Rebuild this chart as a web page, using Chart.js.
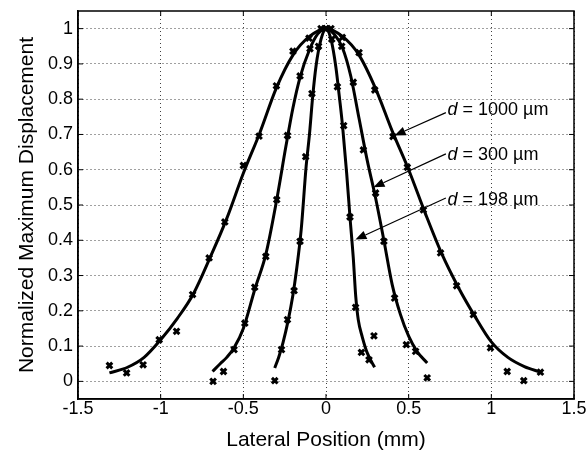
<!DOCTYPE html>
<html>
<head>
<meta charset="utf-8">
<script src="https://cdn.jsdelivr.net/npm/chart.js@4.4.1/dist/chart.umd.min.js"></script>
<style>
  html, body { margin: 0; padding: 0; background: #fff; }
  #wrap { width: 587px; height: 451px; }
</style>
</head>
<body>
<div id="wrap"><canvas id="chart" width="587" height="451"></canvas></div>
<script>
// Tick values (MATLAB-style axes)
const xTicks = [-1.5, -1, -0.5, 0, 0.5, 1, 1.5];
const yTicks = [0, 0.1, 0.2, 0.3, 0.4, 0.5, 0.6, 0.7, 0.8, 0.9, 1];

// Fitted curves
const fit1000X = [-1.31, -1.2, -1.1, -1.0, -0.9, -0.8, -0.7, -0.6, -0.5, -0.4, -0.3, -0.2, -0.1, 0, 0.1, 0.2, 0.3, 0.4, 0.5, 0.6, 0.7, 0.8, 0.9, 1.0, 1.1, 1.2, 1.3];
const fit1000Y = [0.024, 0.04, 0.068, 0.118, 0.178, 0.25, 0.352, 0.462, 0.59, 0.705, 0.832, 0.925, 0.978, 1.0, 0.978, 0.925, 0.83, 0.71, 0.6, 0.477, 0.362, 0.267, 0.185, 0.112, 0.068, 0.042, 0.026];

const fit300X = [-0.686, -0.64, -0.6, -0.556, -0.5, -0.43, -0.364, -0.3, -0.243, -0.2, -0.157, -0.1, -0.05, 0, 0.05, 0.1, 0.15, 0.2, 0.25, 0.3, 0.35, 0.4, 0.45, 0.5, 0.55, 0.612];
const fit300Y = [0.028, 0.05, 0.068, 0.095, 0.15, 0.262, 0.36, 0.51, 0.665, 0.775, 0.862, 0.94, 0.985, 1.0, 0.984, 0.945, 0.865, 0.745, 0.625, 0.52, 0.40, 0.275, 0.19, 0.128, 0.085, 0.052];

const fit198X = [-0.31, -0.285, -0.26, -0.23, -0.2, -0.18, -0.15, -0.12, -0.1, -0.08, -0.06, -0.03, 0, 0.03, 0.06, 0.08, 0.1, 0.125, 0.145, 0.165, 0.18, 0.195, 0.22, 0.25, 0.294];
const fit198Y = [0.038, 0.07, 0.11, 0.17, 0.245, 0.31, 0.43, 0.61, 0.70, 0.81, 0.895, 0.97, 1.0, 0.97, 0.89, 0.81, 0.725, 0.59, 0.466, 0.35, 0.24, 0.175, 0.125, 0.08, 0.04];

// Measured points (x markers)
const meas1000X = [-1.31, -1.206, -1.106, -1.009, -0.904, -0.807, -0.707, -0.612, -0.5, -0.405, -0.3, -0.2, -0.103, 0, 0.099, 0.2, 0.295, 0.405, 0.492, 0.589, 0.693, 0.79, 0.891, 0.995, 1.096, 1.196, 1.297];
const meas1000Y = [0.045, 0.024, 0.047, 0.118, 0.142, 0.246, 0.35, 0.452, 0.612, 0.695, 0.838, 0.936, 0.973, 1.0, 0.975, 0.932, 0.826, 0.694, 0.607, 0.486, 0.364, 0.271, 0.189, 0.095, 0.028, 0.002, 0.026];

const meas300X = [-0.683, -0.62, -0.556, -0.491, -0.431, -0.364, -0.298, -0.233, -0.157, -0.097, -0.03, 0.03, 0.095, 0.165, 0.226, 0.3, 0.35, 0.415, 0.486, 0.542, 0.612];
const meas300Y = [0.0, 0.028, 0.09, 0.165, 0.267, 0.354, 0.515, 0.697, 0.866, 0.943, 1.0, 1.0, 0.95, 0.848, 0.656, 0.534, 0.397, 0.236, 0.104, 0.085, 0.01];

const meas198X = [-0.31, -0.269, -0.233, -0.193, -0.157, -0.123, -0.085, -0.045, 0, 0.035, 0.069, 0.107, 0.145, 0.179, 0.214, 0.26, 0.29];
const meas198Y = [0.002, 0.09, 0.175, 0.257, 0.397, 0.637, 0.816, 0.95, 1.0, 0.97, 0.835, 0.725, 0.466, 0.21, 0.082, 0.061, 0.129];

const FONT = 'Arial, "Liberation Sans", Helvetica, sans-serif';
const pts = (xs, ys) => xs.map((x, i) => ({ x: x, y: ys[i] }));

const curve = (xs, ys) => ({
  type: 'line', data: pts(xs, ys), borderColor: '#000', borderWidth: 3,
  pointRadius: 0, cubicInterpolationMode: 'monotone', fill: false
});
const marks = (xs, ys) => ({
  type: 'scatter', data: pts(xs, ys), showLine: false,
  pointStyle: 'crossRot', pointRadius: 4, pointBorderWidth: 3,
  borderColor: '#000', backgroundColor: '#000'
});

// label text, arrow tail, arrow tip (data coords)
const notes = [
  { size: '1000', tail: [0.725, 0.762], tip: [0.415, 0.697], y: 0.77 },
  { size: '300',  tail: [0.725, 0.645], tip: [0.287, 0.55],  y: 0.642 },
  { size: '198',  tail: [0.725, 0.52],  tip: [0.178, 0.402], y: 0.515 }
];

const frame = {
  id: 'frame',
  afterDraw(chart) {
    const { ctx, chartArea: a, scales: { x, y } } = chart;
    ctx.save();
    ctx.strokeStyle = '#000';
    ctx.lineWidth = 1.5;
    ctx.strokeRect(a.left, a.top, a.right - a.left, a.bottom - a.top);
    ctx.lineWidth = 1;
    ctx.beginPath();
    xTicks.forEach(v => {
      const px = x.getPixelForValue(v);
      ctx.moveTo(px, a.bottom); ctx.lineTo(px, a.bottom - 5);
      ctx.moveTo(px, a.top); ctx.lineTo(px, a.top + 5);
    });
    yTicks.forEach(v => {
      const py = y.getPixelForValue(v);
      ctx.moveTo(a.left, py); ctx.lineTo(a.left + 5, py);
      ctx.moveTo(a.right, py); ctx.lineTo(a.right - 5, py);
    });
    ctx.stroke();
    ctx.restore();
  },
  afterDatasetsDraw(chart) {
    const { ctx, scales: { x, y } } = chart;
    ctx.save();
    ctx.fillStyle = '#000';
    ctx.strokeStyle = '#000';
    notes.forEach(n => {
      const tx = x.getPixelForValue(n.tail[0]), ty = y.getPixelForValue(n.tail[1]);
      const hx = x.getPixelForValue(n.tip[0]), hy = y.getPixelForValue(n.tip[1]);
      const ang = Math.atan2(hy - ty, hx - tx);
      const len = 11, half = 4.5;
      const bx = hx - len * Math.cos(ang), by = hy - len * Math.sin(ang);
      ctx.lineWidth = 1.2;
      ctx.beginPath(); ctx.moveTo(tx, ty); ctx.lineTo(bx, by); ctx.stroke();
      ctx.beginPath();
      ctx.moveTo(hx, hy);
      ctx.lineTo(bx + half * Math.sin(ang), by - half * Math.cos(ang));
      ctx.lineTo(bx - half * Math.sin(ang), by + half * Math.cos(ang));
      ctx.closePath(); ctx.fill();

      // label: italic d, then the rest upright
      let px = x.getPixelForValue(0.735);
      const py = y.getPixelForValue(n.y);
      ctx.textBaseline = 'middle';
      ctx.textAlign = 'left';
      ctx.font = 'italic 18px ' + FONT;
      ctx.fillText('d', px, py);
      px += ctx.measureText('d').width;
      ctx.font = '18px ' + FONT;
      ctx.fillText(' = ' + n.size + ' µm', px, py);
    });
    ctx.restore();
  }
};

new Chart(document.getElementById('chart'), {
  data: {
    datasets: [
      curve(fit1000X, fit1000Y), curve(fit300X, fit300Y), curve(fit198X, fit198Y),
      marks(meas1000X, meas1000Y), marks(meas300X, meas300Y), marks(meas198X, meas198Y)
    ]
  },
  options: {
    responsive: false,
    animation: false,
    layout: { padding: { top: 11, right: 13, left: 0, bottom: 0 } },
    plugins: { legend: { display: false }, tooltip: { enabled: false } },
    scales: {
      x: {
        type: 'linear', min: -1.5, max: 1.5,
        afterBuildTicks: s => { s.ticks = xTicks.map(v => ({ value: v })); },
        afterFit: s => { s.height = 52; s.paddingLeft = 0; s.paddingRight = 0; },
        ticks: { callback: v => String(v), color: '#000', font: { family: FONT, size: 18 }, padding: -1, maxRotation: 0, autoSkip: false },
        grid: { color: 'rgba(0,0,0,0.75)', lineWidth: 1, drawTicks: false },
        border: { display: true, color: '#000', width: 1.5, dash: [1, 3] },
        title: { display: true, text: 'Lateral Position (mm)', color: '#000', font: { family: FONT, size: 21, lineHeight: 1 }, padding: 0 }
      },
      y: {
        type: 'linear', min: -0.05, max: 1.05,
        afterBuildTicks: s => { s.ticks = yTicks.map(v => ({ value: v })); },
        afterFit: s => { s.width = 78; s.paddingTop = 0; s.paddingBottom = 0; },
        ticks: { callback: v => String(v), color: '#000', font: { family: FONT, size: 18 }, padding: 5, autoSkip: false },
        grid: { color: 'rgba(0,0,0,0.75)', lineWidth: 1, drawTicks: false },
        border: { display: true, color: '#000', width: 1.5, dash: [1, 3] },
        title: { display: true, text: 'Normalized Maximum Displacement', color: '#000', font: { family: FONT, size: 21, lineHeight: 1 }, padding: { top: 17, bottom: 0 } }
      }
    }
  },
  plugins: [frame]
});
</script>
</body>
</html>
